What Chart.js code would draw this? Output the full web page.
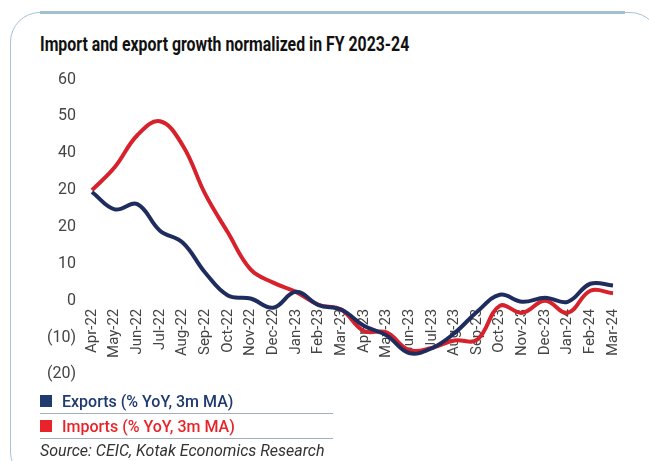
<!DOCTYPE html>
<html>
<head>
<meta charset="utf-8">
<script src="https://cdn.jsdelivr.net/npm/chart.js@4.4.1/dist/chart.umd.min.js"></script>
<style>
  html, body { margin: 0; padding: 0; background: #fff; }
  body { width: 649px; height: 461px; position: relative; overflow: hidden; font-family: Roboto, "Noto Sans", sans-serif; }
  .card { position: absolute; left: 10px; top: 12px; width: 650px; height: 470px; border: 1px solid #a9c4d2; border-radius: 30px; box-sizing: border-box; }
  .topbar { position: absolute; left: 40px; top: 11px; width: 585px; height: 3px; background: #a2bfcf; }
  .title { position: absolute; left: 40px; top: 32px; font-size: 21px; font-weight: 700; color: #111; white-space: nowrap; transform: scaleX(0.755); transform-origin: left top; }
  #wrap { position: absolute; left: 0; top: 54px; width: 649px; height: 346px; }
  .legend { position: absolute; left: 40px; top: 389px; width: 293px; }
  .row { height: 24px; border-bottom: 1px solid #9fb0bd; display: flex; align-items: center; font-size: 16px; font-weight: 500; }
  .sq { width: 12px; height: 12px; margin-right: 10px; }
  .source { position: absolute; left: 40px; top: 441px; font-size: 16px; font-style: italic; color: #333; }
</style>
</head>
<body>
<div class="card"></div>
<div class="topbar"></div>
<div class="title">Import and export growth normalized in FY 2023-24</div>
<div id="wrap"><canvas id="myChart"></canvas></div>
<div class="legend">
  <div class="row" style="color:#1f3a6e"><span class="sq" style="background:#1f3a6e"></span>Exports (% YoY, 3m MA)</div>
  <div class="row" style="color:#e8242a"><span class="sq" style="background:#e8242a"></span>Imports (% YoY, 3m MA)</div>
</div>
<div class="source">Source: CEIC, Kotak Economics Research</div>

<script>
// Mois (avr. 2022 - mars 2024)
var months = ['Apr-22', 'May-22', 'Jun-22', 'Jul-22', 'Aug-22', 'Sep-22', 'Oct-22', 'Nov-22',
    'Dec-22', 'Jan-23', 'Feb-23', 'Mar-23', 'Apr-23', 'May-23', 'Jun-23', 'Jul-23',
    'Aug-23', 'Sep-23', 'Oct-23', 'Nov-23', 'Dec-23', 'Jan-24', 'Feb-24', 'Mar-24'];

// Croissance, % a/a, moyenne mobile 3 mois
var exportsGrowth = [29.5, 24.8, 26.2, 19.0, 15.8, 7.6, 1.4, 0.6,
    -1.9, 2.4, -1.2, -2.4, -6.8, -9.4, -14.2, -12.9,
    -8.8, -3.0, 1.6, -0.3, 0.8, -0.3, 4.6, 4.1];
var importsGrowth = [30.0, 36.2, 44.9, 48.7, 42.2, 28.9, 18.5, 8.5,
    4.9, 2.4, -1.1, -2.4, -8.2, -8.6, -13.4, -12.8,
    -10.8, -10.6, -1.4, -3.3, 0.0, -3.3, 2.7, 2.0];

// Etiquettes de l'axe Y, de bas en haut
var yTickLabels = ['(20)', '(10)', '0', '10', '20', '20', '40', '50', '60'];

var ctx = document.getElementById('myChart').getContext('2d');
var lineChart = new Chart(ctx, {
    type: 'line',
    data: {
        labels: months,
        datasets: [{
            label: 'Exports (% YoY, 3m MA)',
            data: exportsGrowth,
            borderColor: '#1f2d5e',
            borderWidth: 4,
            pointRadius: 0,
            tension: 0.4,
            fill: false
        }, {
            label: 'Imports (% YoY, 3m MA)',
            data: importsGrowth,
            borderColor: '#d7212b',
            borderWidth: 4,
            pointRadius: 0,
            tension: 0.4,
            fill: false
        }]
    },
    options: {
        responsive: true,
        maintainAspectRatio: false,
        animation: false,
        layout: { padding: { top: 18, bottom: 8, left: 0, right: 36 } },
        plugins: {
            legend: { display: false },
            tooltip: { enabled: false }
        },
        scales: {
            x: {
                position: { y: 0 },
                grid: { display: false, drawTicks: false },
                border: { display: false },
                afterFit: function (scale) { scale.height = 0; },
                ticks: {
                    autoSkip: false,
                    maxRotation: 90,
                    minRotation: 90,
                    padding: 8,
                    color: '#444',
                    font: { family: 'Roboto', size: 15 }
                }
            },
            y: {
                min: -20,
                max: 60,
                grid: { display: false, drawTicks: false },
                border: { display: false },
                afterFit: function (scale) { scale.width = 92; },
                ticks: {
                    stepSize: 10,
                    padding: 16,
                    color: '#444',
                    font: { family: 'Roboto', size: 16 },
                    callback: function (value, index) { return yTickLabels[index]; }
                }
            }
        }
    }
});
</script>
</body>
</html>
